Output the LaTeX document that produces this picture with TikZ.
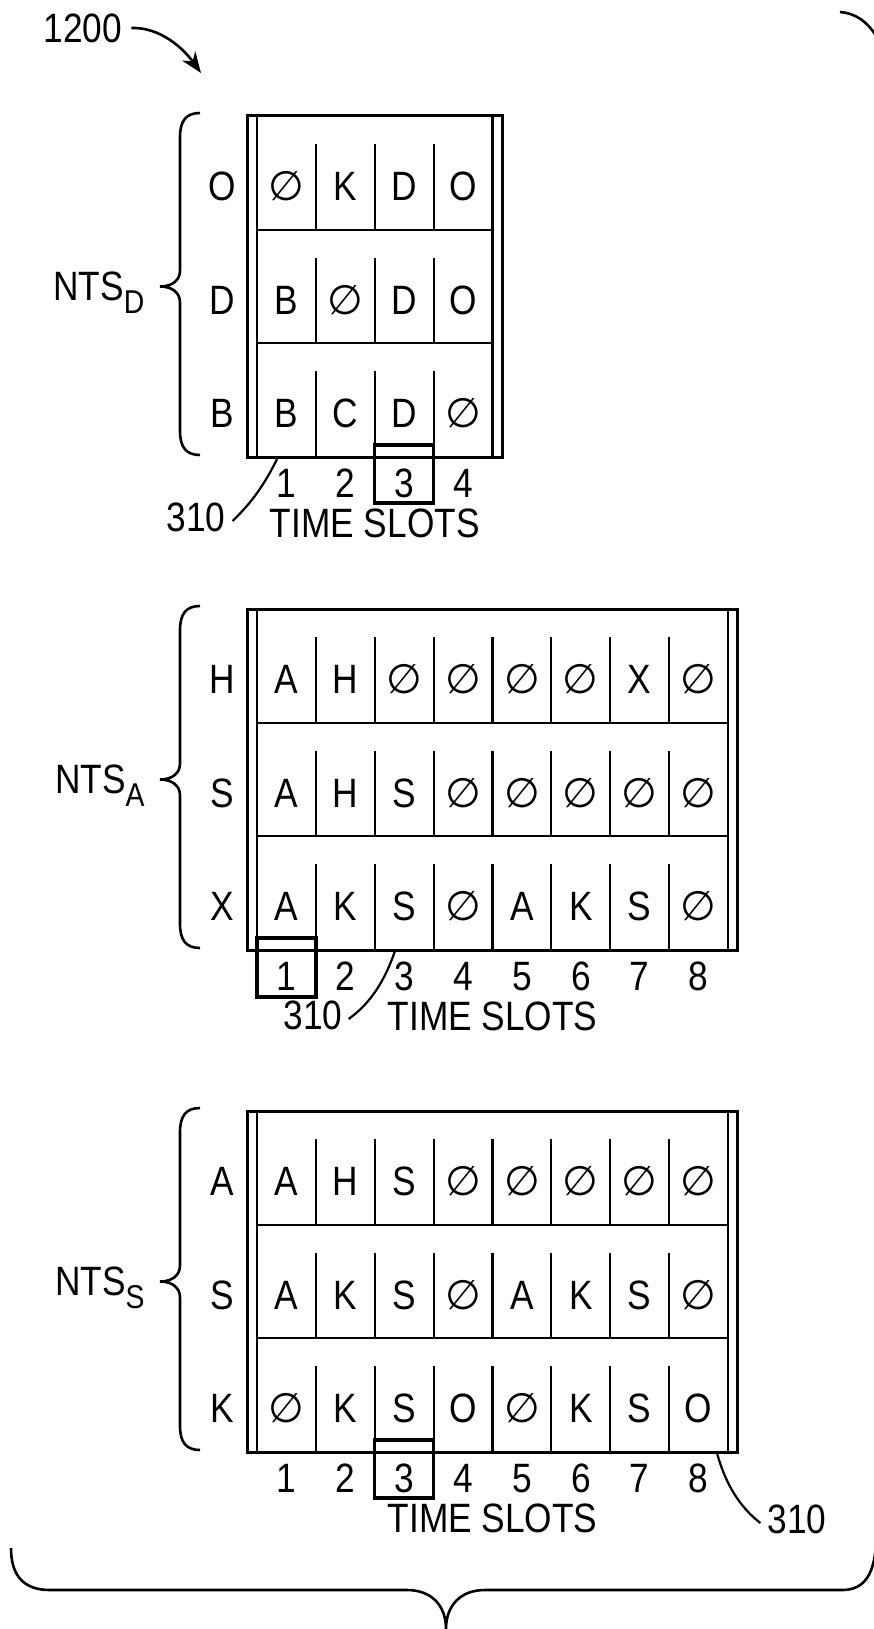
\documentclass[tikz,border=0pt]{standalone}
\usepackage{fontspec}
\setmainfont{Liberation Sans}[FakeStretch=0.86]
\newfontfamily\symfont{DejaVu Sans}
\usetikzlibrary{calc}
\usetikzlibrary{arrows.meta}
\tikzset{cell/.style={inner sep=0pt, text height=29pt, text depth=0pt}}
\tikzset{frame/.style={line width=3pt}}
\tikzset{rule/.style={line width=2.2pt}}
\tikzset{hilite/.style={line width=3.4pt}}
\tikzset{lead/.style={line width=2.2pt}}
\tikzset{curly/.style={line width=2.6pt}}
\newcommand{\nul}{{\symfont ∅}}

\begin{document}
\begin{tikzpicture}[x=1pt,y=-1pt,font=\fontsize{41}{43}\selectfont]
  \useasboundingbox (0,0) rectangle (874,1629);

  \foreach \blk/\tp/\nc in {d/116/4, a/609/8, s/1111/8} {
    \pgfmathsetmacro\rx{257+\nc*58.875}
    \pgfmathsetmacro\bt{\tp+341}
    \pgfmathsetmacro\md{\tp+170.5}
    \pgfmathtruncatemacro\nm{\nc-1}
    \draw[frame] (247,\tp) rectangle (\rx+9.5,\bt);
    \draw[rule] (257,\tp) -- (257,\bt) (\rx,\tp) -- (\rx,\bt);
    \draw[rule] (257,\tp+113.67) -- (\rx,\tp+113.67) (257,\tp+227.33) -- (\rx,\tp+227.33);
    \foreach \i in {1,...,\nm}
      \foreach \j in {0,1,2}
        \draw[rule] (257+\i*58.875,\tp+\j*113.67+28) -- (257+\i*58.875,\tp+\j*113.67+113.67);
    \foreach \i in {1,...,\nc}
      \node[cell] (\blk-n\i) at (257+\i*58.875-29.44,\bt+26) {\i};
    \node[cell] (\blk-ts) at (257+\nc*29.44,\bt+66) {TIME SLOTS};
    \draw[curly] (200,\tp-3) .. controls (186,\tp-3) and (180,\tp+5) .. (180,\tp+21)
      -- (180,\md-16) .. controls (180,\md-6) and (172,\md) .. (160,\md)
      .. controls (172,\md) and (180,\md+6) .. (180,\md+16)
      -- (180,\bt-26) .. controls (180,\bt-10) and (186,\bt-2) .. (200,\bt-2);
  }

  \foreach \row/\cells in {0/{\nul,K,D,O}, 1/{B,\nul,D,O}, 2/{B,C,D,\nul}}
    \foreach \c [count=\i] in \cells
      \node[cell] (d-\row-\i) at (257+\i*58.875-29.44,186+\row*113.67) {\c};
  \foreach \row/\cells in {0/{A,H,\nul,\nul,\nul,\nul,X,\nul}, 1/{A,H,S,\nul,\nul,\nul,\nul,\nul}, 2/{A,K,S,\nul,A,K,S,\nul}}
    \foreach \c [count=\i] in \cells
      \node[cell] (a-\row-\i) at (257+\i*58.875-29.44,679+\row*113.67) {\c};
  \foreach \row/\cells in {0/{A,H,S,\nul,\nul,\nul,\nul,\nul}, 1/{A,K,S,\nul,A,K,S,\nul}, 2/{\nul,K,S,O,\nul,K,S,O}}
    \foreach \c [count=\i] in \cells
      \node[cell] (s-\row-\i) at (257+\i*58.875-29.44,1181+\row*113.67) {\c};

  \foreach \blk/\y/\labs in {d/186/{O,D,B}, a/679/{H,S,X}, s/1181/{A,S,K}}
    \foreach \lab [count=\row from 0] in \labs
      \node[cell] (\blk-lab\row) at (222,\y+\row*113.67) {\lab};

  \node[anchor=base east] (ntsd) at (148,300) {NTS\raisebox{-13pt}{\fontsize{33}{33}\selectfont D}};
  \node[anchor=base east] (ntsa) at (148,793) {NTS\raisebox{-13pt}{\fontsize{33}{33}\selectfont A}};
  \node[anchor=base east] (ntss) at (148,1295) {NTS\raisebox{-13pt}{\fontsize{33}{33}\selectfont S}};

  \draw[hilite] (374.75,445) rectangle (433.63,503);
  \draw[hilite] (257,938) rectangle (315.88,997);
  \draw[hilite] (374.75,1440) rectangle (433.63,1498);

  \node[cell] (n1200) at (83,28) {1200};
  \coordinate (a1200) at (201,73);
  \draw[lead,line width=2.6pt,-{Stealth[length=21pt,width=16pt]}] ([xshift=9pt]n1200.east) .. controls (160,27) and (183,48) .. (a1200);

  \node[cell] (d310) at (196,517) {310};
  \node[cell] (a310) at (313,1015) {310};
  \node[cell] (s310) at (797,1519) {310};
  \coordinate (dp) at (278,457);
  \coordinate (ap) at (395,951);
  \coordinate (sp) at (717,1453);
  \draw[lead] (dp) .. controls (264,486) and (251,503) .. ([xshift=7pt,yshift=-4pt]d310.east);
  \draw[lead] (ap) .. controls (385,980) and (371,1003) .. ([xshift=6pt,yshift=-4pt]a310.east);
  \draw[lead] (sp) .. controls (726,1486) and (741,1508) .. ([xshift=-7pt,yshift=-4pt]s310.west);

  \draw[curly] (11,1548) .. controls (11,1576) and (24,1590) .. (50,1590) -- (407,1590)
    .. controls (432,1590) and (446,1606) .. (446,1629)
    .. controls (446,1606) and (460,1590) .. (485,1590) -- (842,1590)
    .. controls (866,1590) and (874,1572) .. (876,1545);
  \draw[curly] (840,12) .. controls (855,13) and (868,22) .. (876,36);
\end{tikzpicture}
\end{document}
